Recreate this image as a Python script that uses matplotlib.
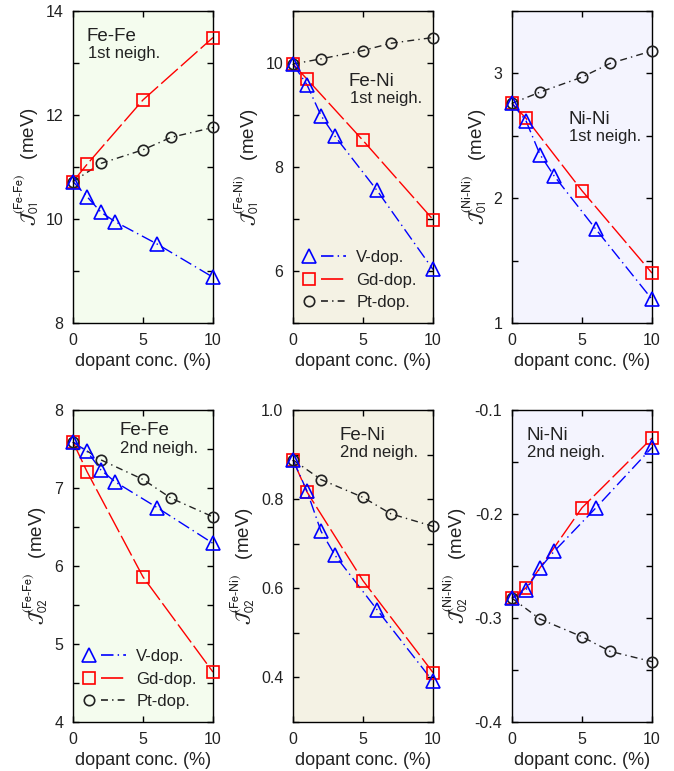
import matplotlib
matplotlib.use("Agg")
import matplotlib.pyplot as plt
from matplotlib.ticker import MultipleLocator
from matplotlib.lines import Line2D
from matplotlib.legend_handler import HandlerTuple

plt.rcParams["font.family"] = ["Liberation Sans", "DejaVu Sans"]
plt.rcParams["mathtext.fontset"] = "stixsans"
plt.rcParams["axes.unicode_minus"] = False
plt.rcParams["lines.scale_dashes"] = False

# dopant concentrations (%)
x_v = [0, 1, 2, 3, 6, 10]
x_gd = [0, 1, 5, 10]
x_pt = [0, 2, 5, 7, 10]

# 1st neighbours
fefe1_v = [10.72, 10.43, 10.13, 9.95, 9.52, 8.88]
fefe1_gd = [10.72, 11.05, 12.29, 13.49]
fefe1_pt = [10.72, 11.07, 11.33, 11.57, 11.76]

feni1_v = [9.98, 9.58, 8.99, 8.59, 7.55, 6.03]
feni1_gd = [9.98, 9.69, 8.51, 6.99]
feni1_pt = [9.98, 10.08, 10.24, 10.38, 10.49]

nini1_v = [2.76, 2.62, 2.35, 2.18, 1.75, 1.19]
nini1_gd = [2.76, 2.64, 2.06, 1.40]
nini1_pt = [2.76, 2.85, 2.97, 3.08, 3.18]

# 2nd neighbours
fefe2_v = [7.59, 7.47, 7.23, 7.08, 6.75, 6.29]
fefe2_gd = [7.59, 7.21, 5.86, 4.64]
fefe2_pt = [7.59, 7.36, 7.11, 6.87, 6.63]

feni2_v = [0.888, 0.818, 0.728, 0.674, 0.552, 0.391]
feni2_gd = [0.888, 0.816, 0.617, 0.411]
feni2_pt = [0.888, 0.844, 0.804, 0.767, 0.739]

nini2_v = [-0.281, -0.273, -0.252, -0.236, -0.194, -0.136]
nini2_gd = [-0.281, -0.271, -0.194, -0.127]
nini2_pt = [-0.281, -0.301, -0.318, -0.332, -0.342]

TXT = "#222222"
bg = {"fefe": "#f4fcee", "feni": "#f4f2e4", "nini": "#f4f4fe"}

styles = {
    "v": dict(color="blue", marker="^", ms=9.5, ls=(0, (9, 3, 1, 3))),
    "gd": dict(color="red", marker="s", ms=9, ls=(0, (16, 3))),
    "pt": dict(color="#222222", marker="o", ms=7.5, ls=(0, (5, 3, 1, 3))),
}

panels = [
    # data, bg, ylim, major, label sup, sub, title, neigh, text pos
    ((fefe1_v, fefe1_gd, fefe1_pt), "fefe", (8, 14), 2, "Fe-Fe", "01", "Fe-Fe", "1st neigh.", (0.10, 0.945)),
    ((feni1_v, feni1_gd, feni1_pt), "feni", (5, 11), 2, "Fe-Ni", "01", "Fe-Ni", "1st neigh.", (0.40, 0.80)),
    ((nini1_v, nini1_gd, nini1_pt), "nini", (1, 3.5), 1, "Ni-Ni", "01", "Ni-Ni", "1st neigh.", (0.40, 0.68)),
    ((fefe2_v, fefe2_gd, fefe2_pt), "fefe", (4, 8), 1, "Fe-Fe", "02", "Fe-Fe", "2nd neigh.", (0.33, 0.96)),
    ((feni2_v, feni2_gd, feni2_pt), "feni", (0.3, 1.0), 0.2, "Fe-Ni", "02", "Fe-Ni", "2nd neigh.", (0.33, 0.945)),
    ((nini2_v, nini2_gd, nini2_pt), "nini", (-0.4, -0.1), 0.1, "Ni-Ni", "02", "Ni-Ni", "2nd neigh.", (0.10, 0.945)),
]

lefts = [73 / 674, 293 / 674, 512 / 674]
bottoms = [1 - 323 / 771, 1 - 722 / 771]
w = 140 / 674
h = 312 / 771

fig = plt.figure(figsize=(6.74, 7.71), dpi=100)

for i, (data, key, ylim, major, sup, sub, title, neigh, tpos) in enumerate(panels):
    ax = fig.add_axes([lefts[i % 3], bottoms[i // 3], w, h])
    ax.set_facecolor(bg[key])
    yv, ygd, ypt = data
    for name, xs, ys in (("gd", x_gd, ygd), ("pt", x_pt, ypt), ("v", x_v, yv)):
        st = styles[name]
        ax.plot(xs, ys, color=st["color"], ls=st["ls"], lw=1.0, zorder=2, clip_on=False)
        ax.plot(xs, ys, ls="none", marker=st["marker"], ms=st["ms"], mfc="none",
                mec=st["color"], mew=1.2, zorder=3, clip_on=False)
    ax.set_xlim(0, 10)
    ax.set_ylim(*ylim)
    ax.xaxis.set_major_locator(MultipleLocator(5))
    ax.yaxis.set_major_locator(MultipleLocator(major))
    ax.yaxis.set_minor_locator(MultipleLocator(major / 2))
    ax.tick_params(which="both", direction="in", top=True, right=True, length=4.5,
                   width=1, labelsize=11.5, labelcolor=TXT, pad=7)
    for sp in ax.spines.values():
        sp.set_linewidth(1.0)
    ax.set_xlabel("dopant conc. (%)", fontsize=13, color=TXT, labelpad=4)
    ax.set_ylabel(r"$\mathcal{J}^{(\mathrm{" + sup.replace("-", "\\text{-}") + r"})}_{" + sub + r"}$   (meV)",
                  fontsize=13.5, color=TXT, labelpad=3)
    ax.text(tpos[0], tpos[1], title, transform=ax.transAxes, fontsize=13.5, color=TXT,
            va="top", ha="left")
    ax.text(tpos[0] + 0.005, tpos[1] - 0.058, neigh, transform=ax.transAxes, fontsize=12,
            color=TXT, va="top", ha="left")

    if i in (1, 3):
        handles = []
        for name in ("v", "gd", "pt"):
            st = styles[name]
            mk = Line2D([], [], ls="none", marker=st["marker"], ms=st["ms"], mfc="none",
                        mec=st["color"], mew=1.2)
            ln = Line2D([], [], color=st["color"], ls=st["ls"], lw=1.2)
            handles.append((mk, ln))
        leg = ax.legend(handles, ["V-dop.", "Gd-dop.", "Pt-dop."],
                        handler_map={tuple: HandlerTuple(ndivide=None, pad=0.0)},
                        loc="lower left", bbox_to_anchor=(0.0, 0.03), frameon=False,
                        fontsize=12, handlelength=3.0, handletextpad=0.6,
                        labelspacing=0.45, borderaxespad=0.0, borderpad=0.2)
        for t in leg.get_texts():
            t.set_color(TXT)

fig.savefig("out.png", dpi=100)
